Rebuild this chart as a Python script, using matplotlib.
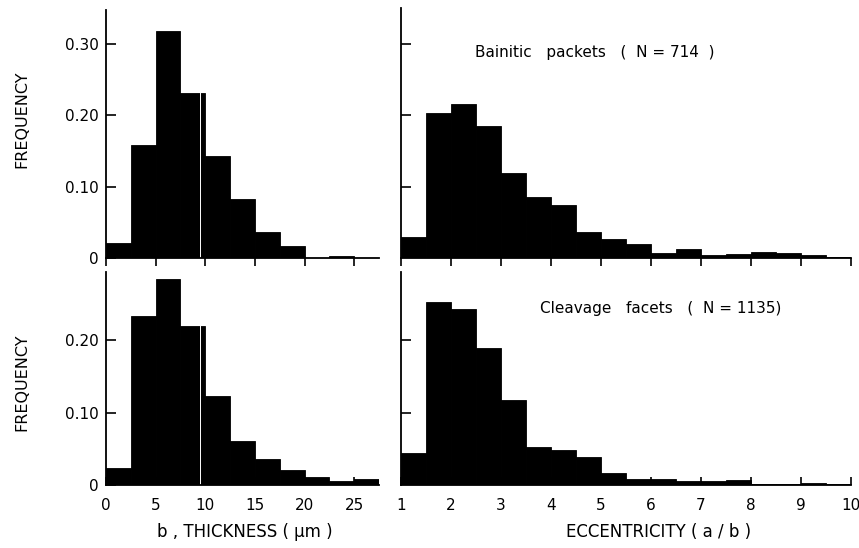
#
# Size and shape distributions: bainitic packets vs cleavage facets
#
import matplotlib

matplotlib.use("Agg")
import matplotlib.pyplot as plt
import numpy as np

# thickness b (um), bins of 2.5 starting at 0
thick_bins = np.arange(0, 27.5, 2.5)
bainitic_thick = [0.021, 0.159, 0.318, 0.232, 0.143, 0.083, 0.036, 0.017, 0.0, 0.003, 0.0]
cleavage_thick = [0.024, 0.233, 0.285, 0.220, 0.123, 0.061, 0.036, 0.021, 0.011, 0.006, 0.008]

# eccentricity a/b, bins of 0.5 starting at 1
ecc_bins = np.arange(1, 10, 0.5)
bainitic_ecc = [0.029, 0.203, 0.216, 0.185, 0.119, 0.085, 0.074, 0.037, 0.026,
                0.020, 0.007, 0.012, 0.004, 0.006, 0.009, 0.007, 0.004, 0.002]
cleavage_ecc = [0.044, 0.252, 0.243, 0.189, 0.117, 0.053, 0.048, 0.039, 0.017,
                0.008, 0.008, 0.0055, 0.005, 0.0075, 0.002, 0.002, 0.003, 0.002]

thick_ticks = [0, 5, 10, 15, 20, 25]
ecc_ticks = [1, 2, 3, 4, 5, 6, 7, 8, 9, 10]
titles = ["Bainitic   packets   (  N = 714  )", "Cleavage   facets   (  N = 1135)"]

plt.rcParams["font.family"] = "DejaVu Sans"
plt.rcParams["font.size"] = 11

W, H = 859, 548
fig = plt.figure(figsize=(W / 100, H / 100), dpi=100)


def add_ax(x0, x1, y_top, y_bot):
    return fig.add_axes([x0 / W, 1 - y_bot / H, (x1 - x0) / W, (y_bot - y_top) / H])


ax_tl = add_ax(106, 379, 10, 258)
ax_tr = add_ax(401, 851, 8, 258)
ax_bl = add_ax(106, 379, 272, 485)
ax_br = add_ax(401, 851, 272, 485)

panels = [
    (ax_tl, thick_bins, 2.5, bainitic_thick, (0, 27.5), 0.348, True),
    (ax_tr, ecc_bins, 0.5, bainitic_ecc, (1, 10), 0.350, True),
    (ax_bl, thick_bins, 2.5, cleavage_thick, (0, 27.5), 0.294, False),
    (ax_br, ecc_bins, 0.5, cleavage_ecc, (1, 10), 0.294, False),
]

for ax, bins, width, vals, xlim, ytop, is_top in panels:
    ax.bar(bins, vals, width=width, align="edge", color="black",
           edgecolor="black", linewidth=0.6)
    ax.set_xlim(*xlim)
    ax.set_ylim(0, ytop)
    for s in ["top", "right"]:
        ax.spines[s].set_visible(False)
    for s in ["left", "bottom"]:
        ax.spines[s].set_linewidth(1.3)
    ax.tick_params(axis="y", direction="in", length=7, width=1.2, pad=5)
    if is_top:
        ax.tick_params(axis="x", direction="out", length=6, width=1.2, labelbottom=False)
    else:
        ax.tick_params(axis="x", direction="in", length=6, width=1.2, pad=9)

# white scan line through the thickness histograms
for ax in [ax_tl, ax_bl]:
    ax.axvline(9.5, color="white", linewidth=0.7, zorder=2)

ax_tl.set_xticks(thick_ticks)
ax_bl.set_xticks(thick_ticks)
ax_tr.set_xticks(ecc_ticks)
ax_br.set_xticks(ecc_ticks)
ax_bl.set_xticklabels([str(t) for t in thick_ticks])
ax_br.set_xticklabels([str(t) for t in ecc_ticks])

ax_tl.set_yticks([0, 0.1, 0.2, 0.3])
ax_tl.set_yticklabels(["0", "0.10", "0.20", "0.30"])
ax_bl.set_yticks([0, 0.1, 0.2])
ax_bl.set_yticklabels(["0", "0.10", "0.20"])
ax_tr.set_yticks([0.1, 0.2, 0.3])
ax_tr.set_yticklabels([])
ax_br.set_yticks([0.1, 0.2])
ax_br.set_yticklabels([])

fig.text(22 / W, 1 - 119 / H, "FREQUENCY", rotation=90, ha="center", va="center", fontsize=11.5)
fig.text(22 / W, 1 - 382 / H, "FREQUENCY", rotation=90, ha="center", va="center", fontsize=11.5)

fig.text(595 / W, 1 - 52 / H, titles[0], ha="center", va="center", fontsize=11)
fig.text(661 / W, 1 - 308 / H, titles[1], ha="center", va="center", fontsize=11)

fig.text(245 / W, 1 - 532 / H, "b , THICKNESS ( µm )", ha="center", va="center", fontsize=12)
fig.text(659 / W, 1 - 532 / H, "ECCENTRICITY ( a / b )", ha="center", va="center", fontsize=12)

fig.savefig("out.png", dpi=100)
